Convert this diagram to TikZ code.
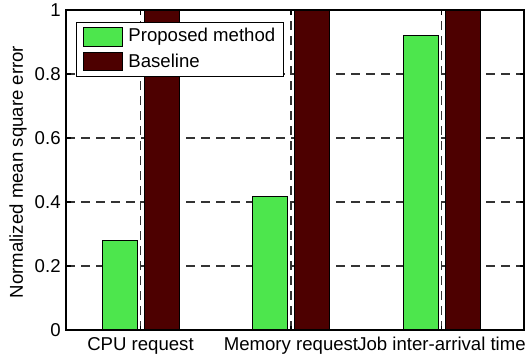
\documentclass[tikz,border=0pt]{standalone}
\usepackage{fontspec}
\setmainfont{Liberation Sans}
\setsansfont{Liberation Sans}
\usetikzlibrary{positioning}
\definecolor{cProp}{HTML}{4DE64D}
\definecolor{cBase}{HTML}{4D0000}
\definecolor{cGrid}{HTML}{333333}
\definecolor{cInk}{HTML}{000000}

\begin{document}
\begin{tikzpicture}[
  x=0.5pt, y=-0.5pt,
  font=\fontsize{9.3}{11}\selectfont,
  gridline/.style={draw=cGrid, line width=0.55pt, dash pattern=on 4.5pt off 3pt},
  propbar/.style={fill=cProp, draw=cInk, line width=0.4pt},
  basebar/.style={fill=cBase, draw=cInk, line width=0.4pt},
  axisline/.style={draw=cInk, line width=0.6pt},
  ticklbl/.style={inner sep=0pt, text=cInk},
  lgbox/.style={rectangle, fill=white, draw=cInk, line width=0.5pt},
]
\useasboundingbox (0,0) rectangle (528,360);

% ---------- Grid ----------
\foreach \v in {0.2,0.4,0.6,0.8}
  \draw[gridline] (66,{330-320*\v}) -- (524,{330-320*\v});
\foreach \c in {140.5,291,441.5}
  \draw[gridline] (\c,330) -- (\c,10);

% ---------- Bars ----------
\foreach \c/\v in {140.5/0.281, 291/0.416, 441.5/0.922} {
  \draw[propbar] ({\c-38.5},330) rectangle ({\c-3.5},{330-320*\v});
  \draw[basebar] ({\c+3.5},330) rectangle ({\c+38.5},10);
}

% ---------- Axes box and ticks ----------
\draw[axisline] (66,10) rectangle (524,330);
\foreach \v [count=\i] in {0,0.2,0.4,0.6,0.8,1} {
  \draw[axisline] (66,{330-320*\v}) -- (70.5,{330-320*\v});
  \draw[axisline] (524,{330-320*\v}) -- (519.5,{330-320*\v});
  \node[ticklbl, anchor=east] (yt\i) at (61,{330-320*\v}) {\v};
}
\foreach \c/\lbl [count=\i] in {140.5/CPU request, 291/Memory request, 441.5/Job inter-arrival time} {
  \draw[axisline] (\c,330) -- (\c,325.5);
  \draw[axisline] (\c,10) -- (\c,14.5);
  \node[ticklbl, anchor=base] (xt\i) at (\c,350.7) {\lbl};
}
\node[ticklbl, rotate=90] (ylab) at (18,172) {Normalized mean square error};

% ---------- Legend ----------
\draw[lgbox] (76,22.7) rectangle (283,76);
\draw[propbar] (83,27) rectangle (122,46);
\draw[basebar] (83,52) rectangle (122,70);
\node[ticklbl, anchor=west] (lgProp) at (128,36.5) {Proposed method};
\node[ticklbl, anchor=west] (lgBase) at (128,61) {Baseline};

\end{tikzpicture}
\end{document}
